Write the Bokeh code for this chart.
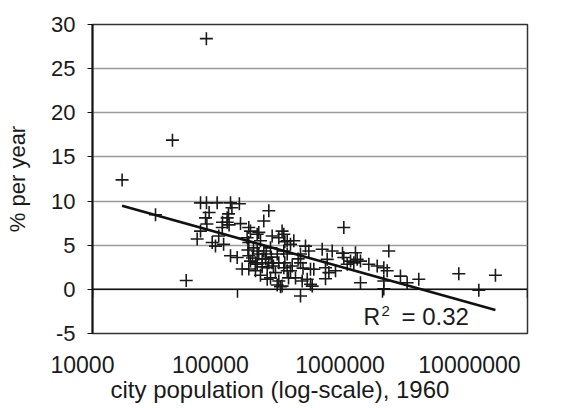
import numpy as np
from bokeh.plotting import figure
from bokeh.models import Span, Label, FixedTicker, Range1d, LogScale, LogAxis, Title
from bokeh.embed import file_html
from bokeh.resources import INLINE

# ---- data ----
population = [
    16000, 27200, 35600, 61000, 44300,
    55600, 61100, 72400, 89500, 103000, 91500, 63700, 86700, 84900, 60200,
    85000, 78800, 104900, 61500, 78500, 87500, 55600, 52700, 66900, 70500,
    80200, 74200, 119600,
    164400, 151800, 122900, 119600, 136700, 140200, 116600, 144100, 173400,
    203000, 208600, 192700, 220200, 244500, 232000, 212000, 294400,
    89500, 99500, 119600, 136700, 128900, 151800, 168900, 187900, 208600, 220200,
    107700, 119600, 136700, 122900, 160300, 173400, 182800, 168900, 192700,
    187900, 198000, 220200, 224900, 156000, 164400, 177000, 148000, 192700,
    203000, 208600, 160300, 238400, 251200, 272000, 272000, 279300, 272000,
    302600, 318700, 318700, 310400,
    118000, 127000, 140000, 148000, 158000, 171000, 133000,
    133000, 144000, 212000, 232000, 262000, 283000,
    336000, 383800, 449800, 415600, 404500, 426600, 404500, 474200,
    541000, 530000, 571000, 651000, 602000, 634000, 669000, 705000, 705000,
    805000, 919000, 1021000, 1077000, 1105000, 1021000, 1021000,
    1330000, 1479000, 1779000, 3359000, 6010000, 4616000, 327400, 541000,
]
growth = [
    12.4, 8.45, 16.9, 28.4, 1.0,
    9.8, 9.8, 9.8, 9.8, 9.7, 9.25, 8.7, 8.55, 8.1, 8.1,
    7.6, 7.6, 7.45, 7.4, 7.0, 7.3, 6.6, 5.7, 5.3, 4.9,
    5.1, 6.05, 5.3,
    8.9, 7.75, 6.6, 7.0, 6.25, 6.45, 5.85, 5.5, 6.05,
    6.6, 6.25, 5.85, 5.5, 5.5, 5.1, 5.4, 4.9,
    3.8, 3.6, 3.8, 4.35, 4.7, 4.35, 4.7, 4.0, 4.35, 4.0,
    2.3, 2.3, 2.85, 3.2, 2.45, 3.0, 1.9, 1.3, 0.95,
    0.5, 0.3, 2.1, 1.3, 3.45, 3.0, 2.65, 2.55, 3.0,
    0.37, 2.45, 1.15, 2.65, 1.3, 4.0, 3.0, 0.95, -0.76,
    1.15, 0.57, 2.27, 4.35,
    4.45, 3.55, 4.0, 3.45, 4.0, 3.65, 3.0,
    2.1, 1.6, 3.0, 2.1, 3.45, 2.4,
    2.27, 4.55, 4.35, 3.4, 2.45, 1.9, 1.2, 2.1,
    3.6, 4.1, 2.85, 4.15, 3.2, 3.0, 3.4, 3.2, 0.75,
    2.85, 2.65, 2.45, 2.1, 4.35, 0.95, 0.05,
    1.5, 0.75, 1.15, 1.77, 1.6, -0.1, 0.37, 7.0,
]
x_ticks = [10000, 100000, 1000000, 10000000]
x_tick_text = ["10000", "100000", "1000000", "10000000"]
y_ticks = [-5, 0, 5, 10, 15, 20, 25, 30]
y_tick_labels = {t: str(t) for t in y_ticks}
r2_value = "0.32"
x_title = "city population (log-scale), 1960"
y_title = "% per year"

FONT = "Liberation Sans"
FS = "22px"
INK = "#1a1a1a"

p = figure(width=586, height=408, x_axis_type="log", x_axis_location=None,
           x_range=Range1d(10000, 10000000), y_range=Range1d(-5, 30),
           output_backend="svg", toolbar_location=None,
           min_border_left=92, min_border_right=59,
           min_border_top=24, min_border_bottom=75)
p.title.visible = False
p.background_fill_color = "white"
p.border_fill_color = "white"
p.outline_line_color = "#333333"
p.outline_line_width = 1.5

# grid
p.xgrid.visible = False
p.ygrid.ticker = FixedTicker(ticks=y_ticks)
p.ygrid.grid_line_color = "#9a9a9a"
p.ygrid.grid_line_width = 1.3

# y axis
p.yaxis.ticker = FixedTicker(ticks=y_ticks)
p.yaxis.major_label_overrides = y_tick_labels
p.yaxis.axis_line_color = "#111111"
p.yaxis.axis_line_width = 2
p.yaxis.major_tick_line_color = "#111111"
p.yaxis.major_tick_out = 5
p.yaxis.major_tick_in = 0
p.yaxis.minor_tick_line_color = None
p.yaxis.major_label_text_font = FONT
p.yaxis.major_label_text_font_size = FS
p.yaxis.major_label_text_color = INK
p.yaxis.major_label_standoff = 12
p.yaxis.axis_label = y_title
p.yaxis.axis_label_text_font = FONT
p.yaxis.axis_label_text_font_size = FS
p.yaxis.axis_label_text_font_style = "normal"
p.yaxis.axis_label_text_color = INK
p.yaxis.axis_label_standoff = 18

# x tick labels: Excel spreads them narrower than the decades and shifted left.
# Label-only axis on a wider log range; the first label sits just inside the
# frame and is padded so that its centre falls left of the frame edge.
lab_start, lab_end = 10 ** 4.0888, 10 ** 7.4479
lab_first = 10 ** 4.11
lab_ticks = [lab_first] + x_ticks[1:]
pad = "\u00a0" * 4
lab_text = [x_tick_text[0] + pad] + x_tick_text[1:]
p.extra_x_ranges = {"lab": Range1d(lab_start, lab_end)}
p.extra_x_scales = {"lab": LogScale()}
lab_axis = LogAxis(x_range_name="lab", ticker=FixedTicker(ticks=lab_ticks),
                   major_label_overrides=dict(zip(lab_ticks, lab_text)))
lab_axis.axis_line_color = None
lab_axis.major_tick_line_color = None
lab_axis.minor_tick_line_color = None
lab_axis.major_tick_out = 0
lab_axis.major_tick_in = 0
lab_axis.major_label_standoff = 18
lab_axis.major_label_text_font = FONT
lab_axis.major_label_text_font_size = "23px"
lab_axis.major_label_text_color = INK
p.add_layout(lab_axis, "below")

p.add_layout(Title(text=x_title, align="left", offset=18, standoff=-13,
                   text_font=FONT, text_font_size="24px", text_font_style="normal",
                   text_color=INK), "below")

# zero line (horizontal axis crossing) with its tick marks
p.add_layout(Span(location=0, dimension="width", line_color="#111111", line_width=1.5))
p.segment(x0=x_ticks, y0=[0] * len(x_ticks), x1=x_ticks, y1=[-0.95] * len(x_ticks),
          line_color="#111111", line_width=1.5)

# points
p.scatter(population, growth, marker="cross", size=13, line_color="#1a1a1a", line_width=1.6)

# linear trend on log10(population)
lx = np.log10(np.array(population, dtype=float))
slope, intercept = np.polyfit(lx, np.array(growth), 1)
tx = np.array([lx.min(), lx.max()])
p.line(10 ** tx, slope * tx + intercept, line_color="#111111", line_width=2.6)

# R^2 annotation: "R", superscript "2", "= 0.32"
r2_x, r2_y = 740000, -3.1
p.add_layout(Label(x=r2_x, y=r2_y, text="R", text_font=FONT, text_font_size="23px",
                   text_color=INK, text_baseline="middle", text_align="left"))
p.add_layout(Label(x=r2_x, y=r2_y, x_offset=18, y_offset=6, text="2", text_font=FONT,
                   text_font_size="15px", text_color=INK, text_baseline="middle",
                   text_align="left"))
p.add_layout(Label(x=r2_x, y=r2_y, x_offset=38, text="= " + r2_value, text_font=FONT,
                   text_font_size="24px", text_color=INK, text_baseline="middle",
                   text_align="left"))

open("out.html", "w").write(file_html(p, INLINE))
